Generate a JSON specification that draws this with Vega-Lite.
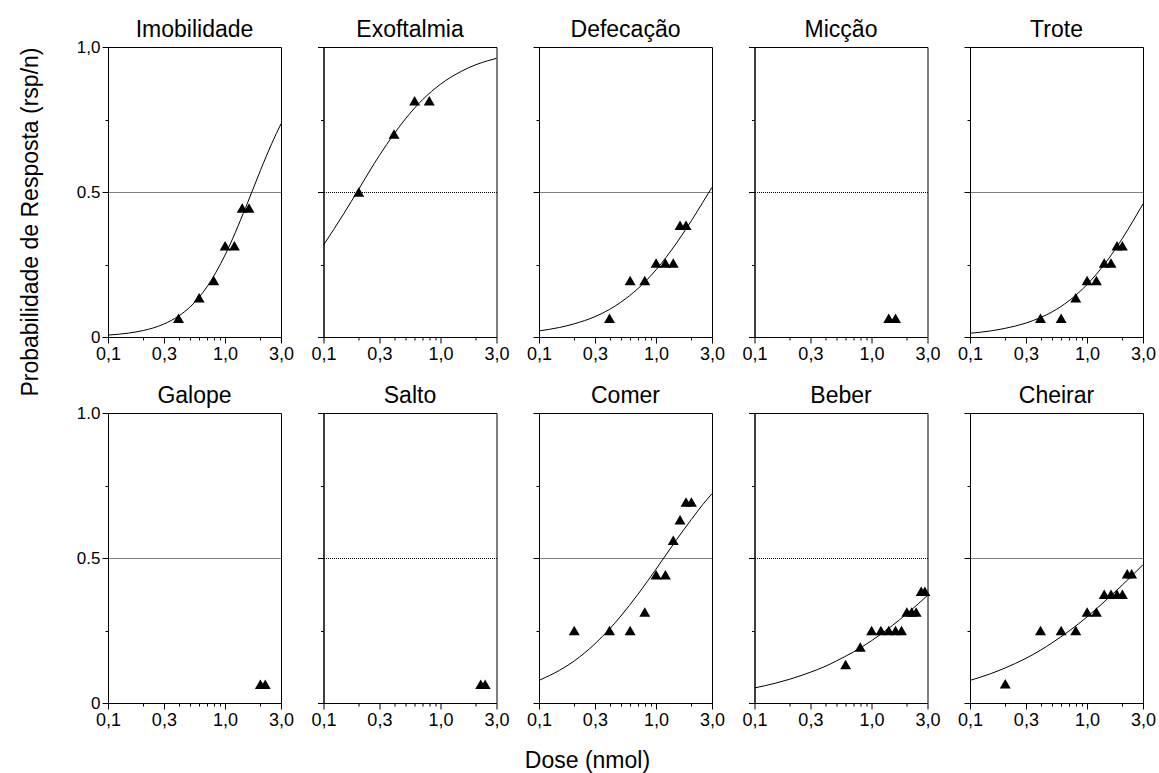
{
  "$schema": "https://vega.github.io/schema/vega-lite/v6.json",
  "background": "white",
  "padding": {"left": 18, "top": 18, "right": 5, "bottom": 0},
  "title": {"text": "Dose (nmol)", "orient": "bottom", "anchor": "middle", "offset": 20, "fontSize": 23},
  "config": {
    "font": "Liberation Sans",
    "view": {"stroke": "black", "strokeWidth": 1},
    "title": {"fontSize": 23, "fontWeight": "normal", "color": "black", "offset": 5, "font": "Liberation Sans"},
    "axis": {"domainColor": "black", "tickColor": "black", "labelColor": "black", "labelFont": "Liberation Sans", "labelFontSize": 18, "labelPadding": 2, "labelFlush": false, "labelOverlap": false, "titleFont": "Liberation Sans", "titleFontWeight": "normal", "titleColor": "black", "titleFontSize": 23, "gridColor": "black", "gridDash": [1, 1], "gridWidth": 1}
  },
  "datasets": {
    "d": [
      {"g": "Imobilidade", "k": "o", "x": 0.4, "y": 0.065},
      {"g": "Imobilidade", "k": "o", "x": 0.6, "y": 0.135},
      {"g": "Imobilidade", "k": "o", "x": 0.8, "y": 0.195},
      {"g": "Imobilidade", "k": "o", "x": 1.0, "y": 0.315},
      {"g": "Imobilidade", "k": "o", "x": 1.2, "y": 0.315},
      {"g": "Imobilidade", "k": "o", "x": 1.4, "y": 0.445},
      {"g": "Imobilidade", "k": "o", "x": 1.6, "y": 0.445},
      {"g": "Exoftalmia", "k": "o", "x": 0.2, "y": 0.5},
      {"g": "Exoftalmia", "k": "o", "x": 0.4, "y": 0.7},
      {"g": "Exoftalmia", "k": "o", "x": 0.6, "y": 0.815},
      {"g": "Exoftalmia", "k": "o", "x": 0.8, "y": 0.815},
      {"g": "Defecação", "k": "o", "x": 0.4, "y": 0.065},
      {"g": "Defecação", "k": "o", "x": 0.6, "y": 0.195},
      {"g": "Defecação", "k": "o", "x": 0.8, "y": 0.195},
      {"g": "Defecação", "k": "o", "x": 1.0, "y": 0.255},
      {"g": "Defecação", "k": "o", "x": 1.2, "y": 0.255},
      {"g": "Defecação", "k": "o", "x": 1.4, "y": 0.255},
      {"g": "Defecação", "k": "o", "x": 1.6, "y": 0.385},
      {"g": "Defecação", "k": "o", "x": 1.8, "y": 0.385},
      {"g": "Micção", "k": "o", "x": 1.4, "y": 0.065},
      {"g": "Micção", "k": "o", "x": 1.6, "y": 0.065},
      {"g": "Trote", "k": "o", "x": 0.4, "y": 0.065},
      {"g": "Trote", "k": "o", "x": 0.6, "y": 0.065},
      {"g": "Trote", "k": "o", "x": 0.8, "y": 0.135},
      {"g": "Trote", "k": "o", "x": 1.0, "y": 0.195},
      {"g": "Trote", "k": "o", "x": 1.2, "y": 0.195},
      {"g": "Trote", "k": "o", "x": 1.4, "y": 0.255},
      {"g": "Trote", "k": "o", "x": 1.6, "y": 0.255},
      {"g": "Trote", "k": "o", "x": 1.8, "y": 0.315},
      {"g": "Trote", "k": "o", "x": 2.0, "y": 0.315},
      {"g": "Galope", "k": "o", "x": 2.0, "y": 0.065},
      {"g": "Galope", "k": "o", "x": 2.2, "y": 0.065},
      {"g": "Salto", "k": "o", "x": 2.2, "y": 0.065},
      {"g": "Salto", "k": "o", "x": 2.4, "y": 0.065},
      {"g": "Comer", "k": "o", "x": 0.2, "y": 0.25},
      {"g": "Comer", "k": "o", "x": 0.4, "y": 0.25},
      {"g": "Comer", "k": "o", "x": 0.6, "y": 0.25},
      {"g": "Comer", "k": "o", "x": 0.8, "y": 0.314},
      {"g": "Comer", "k": "o", "x": 1.0, "y": 0.442},
      {"g": "Comer", "k": "o", "x": 1.2, "y": 0.442},
      {"g": "Comer", "k": "o", "x": 1.4, "y": 0.561},
      {"g": "Comer", "k": "o", "x": 1.6, "y": 0.632},
      {"g": "Comer", "k": "o", "x": 1.8, "y": 0.693},
      {"g": "Comer", "k": "o", "x": 2.0, "y": 0.693},
      {"g": "Beber", "k": "o", "x": 0.6, "y": 0.133},
      {"g": "Beber", "k": "o", "x": 0.8, "y": 0.193},
      {"g": "Beber", "k": "o", "x": 1.0, "y": 0.25},
      {"g": "Beber", "k": "o", "x": 1.2, "y": 0.25},
      {"g": "Beber", "k": "o", "x": 1.4, "y": 0.25},
      {"g": "Beber", "k": "o", "x": 1.6, "y": 0.25},
      {"g": "Beber", "k": "o", "x": 1.8, "y": 0.25},
      {"g": "Beber", "k": "o", "x": 2.0, "y": 0.314},
      {"g": "Beber", "k": "o", "x": 2.2, "y": 0.314},
      {"g": "Beber", "k": "o", "x": 2.4, "y": 0.314},
      {"g": "Beber", "k": "o", "x": 2.65, "y": 0.385},
      {"g": "Beber", "k": "o", "x": 2.85, "y": 0.385},
      {"g": "Cheirar", "k": "o", "x": 0.2, "y": 0.066},
      {"g": "Cheirar", "k": "o", "x": 0.4, "y": 0.25},
      {"g": "Cheirar", "k": "o", "x": 0.6, "y": 0.25},
      {"g": "Cheirar", "k": "o", "x": 0.8, "y": 0.25},
      {"g": "Cheirar", "k": "o", "x": 1.0, "y": 0.314},
      {"g": "Cheirar", "k": "o", "x": 1.2, "y": 0.314},
      {"g": "Cheirar", "k": "o", "x": 1.4, "y": 0.375},
      {"g": "Cheirar", "k": "o", "x": 1.6, "y": 0.375},
      {"g": "Cheirar", "k": "o", "x": 1.8, "y": 0.375},
      {"g": "Cheirar", "k": "o", "x": 2.0, "y": 0.375},
      {"g": "Cheirar", "k": "o", "x": 2.2, "y": 0.446},
      {"g": "Cheirar", "k": "o", "x": 2.4, "y": 0.446},
      {"g": "Imobilidade", "k": "f", "x": 0.1, "y": 0.0066},
      {"g": "Imobilidade", "k": "f", "x": 0.15, "y": 0.0135},
      {"g": "Imobilidade", "k": "f", "x": 0.2, "y": 0.0223},
      {"g": "Imobilidade", "k": "f", "x": 0.3, "y": 0.0447},
      {"g": "Imobilidade", "k": "f", "x": 0.4, "y": 0.072},
      {"g": "Imobilidade", "k": "f", "x": 0.5, "y": 0.103},
      {"g": "Imobilidade", "k": "f", "x": 0.7, "y": 0.173},
      {"g": "Imobilidade", "k": "f", "x": 1.0, "y": 0.283},
      {"g": "Imobilidade", "k": "f", "x": 1.5, "y": 0.447},
      {"g": "Imobilidade", "k": "f", "x": 2.0, "y": 0.574},
      {"g": "Imobilidade", "k": "f", "x": 2.5, "y": 0.667},
      {"g": "Imobilidade", "k": "f", "x": 3.0, "y": 0.735},
      {"g": "Exoftalmia", "k": "f", "x": 0.1, "y": 0.317},
      {"g": "Exoftalmia", "k": "f", "x": 0.15, "y": 0.427},
      {"g": "Exoftalmia", "k": "f", "x": 0.2, "y": 0.51},
      {"g": "Exoftalmia", "k": "f", "x": 0.3, "y": 0.626},
      {"g": "Exoftalmia", "k": "f", "x": 0.4, "y": 0.7},
      {"g": "Exoftalmia", "k": "f", "x": 0.5, "y": 0.752},
      {"g": "Exoftalmia", "k": "f", "x": 0.7, "y": 0.818},
      {"g": "Exoftalmia", "k": "f", "x": 1.0, "y": 0.872},
      {"g": "Exoftalmia", "k": "f", "x": 1.5, "y": 0.916},
      {"g": "Exoftalmia", "k": "f", "x": 2.0, "y": 0.939},
      {"g": "Exoftalmia", "k": "f", "x": 2.5, "y": 0.952},
      {"g": "Exoftalmia", "k": "f", "x": 3.0, "y": 0.961},
      {"g": "Defecação", "k": "f", "x": 0.1, "y": 0.021},
      {"g": "Defecação", "k": "f", "x": 0.15, "y": 0.033},
      {"g": "Defecação", "k": "f", "x": 0.2, "y": 0.0455},
      {"g": "Defecação", "k": "f", "x": 0.3, "y": 0.07},
      {"g": "Defecação", "k": "f", "x": 0.4, "y": 0.095},
      {"g": "Defecação", "k": "f", "x": 0.5, "y": 0.12},
      {"g": "Defecação", "k": "f", "x": 0.7, "y": 0.167},
      {"g": "Defecação", "k": "f", "x": 1.0, "y": 0.232},
      {"g": "Defecação", "k": "f", "x": 1.5, "y": 0.325},
      {"g": "Defecação", "k": "f", "x": 2.0, "y": 0.401},
      {"g": "Defecação", "k": "f", "x": 2.5, "y": 0.464},
      {"g": "Defecação", "k": "f", "x": 3.0, "y": 0.516},
      {"g": "Trote", "k": "f", "x": 0.1, "y": 0.013},
      {"g": "Trote", "k": "f", "x": 0.15, "y": 0.021},
      {"g": "Trote", "k": "f", "x": 0.2, "y": 0.03},
      {"g": "Trote", "k": "f", "x": 0.3, "y": 0.048},
      {"g": "Trote", "k": "f", "x": 0.4, "y": 0.067},
      {"g": "Trote", "k": "f", "x": 0.5, "y": 0.086},
      {"g": "Trote", "k": "f", "x": 0.7, "y": 0.125},
      {"g": "Trote", "k": "f", "x": 1.0, "y": 0.181},
      {"g": "Trote", "k": "f", "x": 1.5, "y": 0.266},
      {"g": "Trote", "k": "f", "x": 2.0, "y": 0.34},
      {"g": "Trote", "k": "f", "x": 2.5, "y": 0.404},
      {"g": "Trote", "k": "f", "x": 3.0, "y": 0.459},
      {"g": "Comer", "k": "f", "x": 0.1, "y": 0.078},
      {"g": "Comer", "k": "f", "x": 0.15, "y": 0.113},
      {"g": "Comer", "k": "f", "x": 0.2, "y": 0.145},
      {"g": "Comer", "k": "f", "x": 0.3, "y": 0.204},
      {"g": "Comer", "k": "f", "x": 0.4, "y": 0.255},
      {"g": "Comer", "k": "f", "x": 0.5, "y": 0.3},
      {"g": "Comer", "k": "f", "x": 0.7, "y": 0.375},
      {"g": "Comer", "k": "f", "x": 1.0, "y": 0.462},
      {"g": "Comer", "k": "f", "x": 1.5, "y": 0.564},
      {"g": "Comer", "k": "f", "x": 2.0, "y": 0.633},
      {"g": "Comer", "k": "f", "x": 2.5, "y": 0.684},
      {"g": "Comer", "k": "f", "x": 3.0, "y": 0.722},
      {"g": "Beber", "k": "f", "x": 0.1, "y": 0.052},
      {"g": "Beber", "k": "f", "x": 0.15, "y": 0.068},
      {"g": "Beber", "k": "f", "x": 0.2, "y": 0.082},
      {"g": "Beber", "k": "f", "x": 0.3, "y": 0.106},
      {"g": "Beber", "k": "f", "x": 0.4, "y": 0.126},
      {"g": "Beber", "k": "f", "x": 0.5, "y": 0.145},
      {"g": "Beber", "k": "f", "x": 0.7, "y": 0.176},
      {"g": "Beber", "k": "f", "x": 1.0, "y": 0.215},
      {"g": "Beber", "k": "f", "x": 1.5, "y": 0.267},
      {"g": "Beber", "k": "f", "x": 2.0, "y": 0.308},
      {"g": "Beber", "k": "f", "x": 2.5, "y": 0.342},
      {"g": "Beber", "k": "f", "x": 3.0, "y": 0.371},
      {"g": "Cheirar", "k": "f", "x": 0.1, "y": 0.078},
      {"g": "Cheirar", "k": "f", "x": 0.15, "y": 0.101},
      {"g": "Cheirar", "k": "f", "x": 0.2, "y": 0.121},
      {"g": "Cheirar", "k": "f", "x": 0.3, "y": 0.154},
      {"g": "Cheirar", "k": "f", "x": 0.4, "y": 0.182},
      {"g": "Cheirar", "k": "f", "x": 0.5, "y": 0.207},
      {"g": "Cheirar", "k": "f", "x": 0.7, "y": 0.248},
      {"g": "Cheirar", "k": "f", "x": 1.0, "y": 0.297},
      {"g": "Cheirar", "k": "f", "x": 1.5, "y": 0.36},
      {"g": "Cheirar", "k": "f", "x": 2.0, "y": 0.407},
      {"g": "Cheirar", "k": "f", "x": 2.5, "y": 0.445},
      {"g": "Cheirar", "k": "f", "x": 3.0, "y": 0.477}
    ]
  },
  "columns": 5,
  "spacing": {"row": 76, "column": 42.5},
  "bounds": "flush",
  "concat": [
    {"title": {"text": "Imobilidade", "offset": -4}, "width": 173, "height": 290, "data": {"name": "d"}, "transform": [{"filter": "datum.g=='Imobilidade'"}],
     "encoding": {
       "x": {"field": "x", "type": "quantitative", "scale": {"type": "log", "domain": [0.1, 3], "nice": false}, "axis": {"title": null, "grid": false, "values": [0.1, 0.2, 0.3, 0.4, 0.5, 0.6, 0.7, 0.8, 0.9, 1, 2, 3], "labelExpr": "datum.value==0.1?'0,1':datum.value==0.3?'0,3':datum.value==1?'1,0':datum.value==3?'3,0':''", "tickSize": {"condition": {"test": "datum.value==0.1||datum.value==0.3||datum.value==1||datum.value==3", "value": 6}, "value": 3}}},
       "y": {"field": "y", "type": "quantitative", "scale": {"domain": [0, 1], "nice": false}, "axis": {"title": "Probabilidade de Resposta (rsp/n)", "titleAnchor": "end", "titlePadding": 34, "labelFontSize": 17, "values": [0, 0.25, 0.5, 0.75, 1], "labelExpr": "datum.value==1?'1,0':datum.value==0.5?'0.5':datum.value==0?'0':''", "tickSize": {"condition": {"test": "datum.value==0||datum.value==0.5||datum.value==1", "value": 6}, "value": 3}, "grid": true, "gridOpacity": {"condition": {"test": "datum.value==0.5", "value": 1}, "value": 0}}}
     },
     "layer": [
       {"transform": [{"filter": "datum.k=='f'"}], "mark": {"type": "line", "interpolate": "monotone", "color": "black", "strokeWidth": 1}},
       {"transform": [{"filter": "datum.k=='o'"}], "mark": {"type": "point", "shape": "triangle-up", "filled": true, "color": "black", "opacity": 1, "size": 120}}
     ]},
    {"title": "Exoftalmia", "width": 173, "height": 290, "data": {"name": "d"}, "transform": [{"filter": "datum.g=='Exoftalmia'"}],
     "encoding": {
       "x": {"field": "x", "type": "quantitative", "scale": {"type": "log", "domain": [0.1, 3], "nice": false}, "axis": {"title": null, "grid": false, "values": [0.1, 0.2, 0.3, 0.4, 0.5, 0.6, 0.7, 0.8, 0.9, 1, 2, 3], "labelExpr": "datum.value==0.1?'0,1':datum.value==0.3?'0,3':datum.value==1?'1,0':datum.value==3?'3,0':''", "tickSize": {"condition": {"test": "datum.value==0.1||datum.value==0.3||datum.value==1||datum.value==3", "value": 6}, "value": 3}}},
       "y": {"field": "y", "type": "quantitative", "scale": {"domain": [0, 1], "nice": false}, "axis": {"title": null, "labels": false, "values": [0, 0.25, 0.5, 0.75, 1], "tickSize": {"condition": {"test": "datum.value==0||datum.value==0.5||datum.value==1", "value": 6}, "value": 3}, "grid": true, "gridOpacity": {"condition": {"test": "datum.value==0.5", "value": 1}, "value": 0}}}
     },
     "layer": [
       {"transform": [{"filter": "datum.k=='f'"}], "mark": {"type": "line", "interpolate": "monotone", "color": "black", "strokeWidth": 1}},
       {"transform": [{"filter": "datum.k=='o'"}], "mark": {"type": "point", "shape": "triangle-up", "filled": true, "color": "black", "opacity": 1, "size": 120}}
     ]},
    {"title": "Defecação", "width": 173, "height": 290, "data": {"name": "d"}, "transform": [{"filter": "datum.g=='Defecação'"}],
     "encoding": {
       "x": {"field": "x", "type": "quantitative", "scale": {"type": "log", "domain": [0.1, 3], "nice": false}, "axis": {"title": null, "grid": false, "values": [0.1, 0.2, 0.3, 0.4, 0.5, 0.6, 0.7, 0.8, 0.9, 1, 2, 3], "labelExpr": "datum.value==0.1?'0,1':datum.value==0.3?'0,3':datum.value==1?'1,0':datum.value==3?'3,0':''", "tickSize": {"condition": {"test": "datum.value==0.1||datum.value==0.3||datum.value==1||datum.value==3", "value": 6}, "value": 3}}},
       "y": {"field": "y", "type": "quantitative", "scale": {"domain": [0, 1], "nice": false}, "axis": {"title": null, "labels": false, "values": [0, 0.25, 0.5, 0.75, 1], "tickSize": {"condition": {"test": "datum.value==0||datum.value==0.5||datum.value==1", "value": 6}, "value": 3}, "grid": true, "gridOpacity": {"condition": {"test": "datum.value==0.5", "value": 1}, "value": 0}}}
     },
     "layer": [
       {"transform": [{"filter": "datum.k=='f'"}], "mark": {"type": "line", "interpolate": "monotone", "color": "black", "strokeWidth": 1}},
       {"transform": [{"filter": "datum.k=='o'"}], "mark": {"type": "point", "shape": "triangle-up", "filled": true, "color": "black", "opacity": 1, "size": 120}}
     ]},
    {"title": "Micção", "width": 173, "height": 290, "data": {"name": "d"}, "transform": [{"filter": "datum.g=='Micção'"}],
     "encoding": {
       "x": {"field": "x", "type": "quantitative", "scale": {"type": "log", "domain": [0.1, 3], "nice": false}, "axis": {"title": null, "grid": false, "values": [0.1, 0.2, 0.3, 0.4, 0.5, 0.6, 0.7, 0.8, 0.9, 1, 2, 3], "labelExpr": "datum.value==0.1?'0,1':datum.value==0.3?'0,3':datum.value==1?'1,0':datum.value==3?'3,0':''", "tickSize": {"condition": {"test": "datum.value==0.1||datum.value==0.3||datum.value==1||datum.value==3", "value": 6}, "value": 3}}},
       "y": {"field": "y", "type": "quantitative", "scale": {"domain": [0, 1], "nice": false}, "axis": {"title": null, "labels": false, "values": [0, 0.25, 0.5, 0.75, 1], "tickSize": {"condition": {"test": "datum.value==0||datum.value==0.5||datum.value==1", "value": 6}, "value": 3}, "grid": true, "gridOpacity": {"condition": {"test": "datum.value==0.5", "value": 1}, "value": 0}}}
     },
     "layer": [
       {"transform": [{"filter": "datum.k=='o'"}], "mark": {"type": "point", "shape": "triangle-up", "filled": true, "color": "black", "opacity": 1, "size": 120}}
     ]},
    {"title": "Trote", "width": 173, "height": 290, "data": {"name": "d"}, "transform": [{"filter": "datum.g=='Trote'"}],
     "encoding": {
       "x": {"field": "x", "type": "quantitative", "scale": {"type": "log", "domain": [0.1, 3], "nice": false}, "axis": {"title": null, "grid": false, "values": [0.1, 0.2, 0.3, 0.4, 0.5, 0.6, 0.7, 0.8, 0.9, 1, 2, 3], "labelExpr": "datum.value==0.1?'0,1':datum.value==0.3?'0,3':datum.value==1?'1,0':datum.value==3?'3,0':''", "tickSize": {"condition": {"test": "datum.value==0.1||datum.value==0.3||datum.value==1||datum.value==3", "value": 6}, "value": 3}}},
       "y": {"field": "y", "type": "quantitative", "scale": {"domain": [0, 1], "nice": false}, "axis": {"title": null, "labels": false, "values": [0, 0.25, 0.5, 0.75, 1], "tickSize": {"condition": {"test": "datum.value==0||datum.value==0.5||datum.value==1", "value": 6}, "value": 3}, "grid": true, "gridOpacity": {"condition": {"test": "datum.value==0.5", "value": 1}, "value": 0}}}
     },
     "layer": [
       {"transform": [{"filter": "datum.k=='f'"}], "mark": {"type": "line", "interpolate": "monotone", "color": "black", "strokeWidth": 1}},
       {"transform": [{"filter": "datum.k=='o'"}], "mark": {"type": "point", "shape": "triangle-up", "filled": true, "color": "black", "opacity": 1, "size": 120}}
     ]},
    {"title": {"text": "Galope", "offset": -4}, "width": 173, "height": 290, "data": {"name": "d"}, "transform": [{"filter": "datum.g=='Galope'"}],
     "encoding": {
       "x": {"field": "x", "type": "quantitative", "scale": {"type": "log", "domain": [0.1, 3], "nice": false}, "axis": {"title": null, "grid": false, "values": [0.1, 0.2, 0.3, 0.4, 0.5, 0.6, 0.7, 0.8, 0.9, 1, 2, 3], "labelExpr": "datum.value==0.1?'0,1':datum.value==0.3?'0,3':datum.value==1?'1,0':datum.value==3?'3,0':''", "tickSize": {"condition": {"test": "datum.value==0.1||datum.value==0.3||datum.value==1||datum.value==3", "value": 6}, "value": 3}}},
       "y": {"field": "y", "type": "quantitative", "scale": {"domain": [0, 1], "nice": false}, "axis": {"title": null, "labelFontSize": 17, "values": [0, 0.25, 0.5, 0.75, 1], "labelExpr": "datum.value==1?'1.0':datum.value==0.5?'0.5':datum.value==0?'0':''", "tickSize": {"condition": {"test": "datum.value==0||datum.value==0.5||datum.value==1", "value": 6}, "value": 3}, "grid": true, "gridOpacity": {"condition": {"test": "datum.value==0.5", "value": 1}, "value": 0}}}
     },
     "layer": [
       {"transform": [{"filter": "datum.k=='o'"}], "mark": {"type": "point", "shape": "triangle-up", "filled": true, "color": "black", "opacity": 1, "size": 120}}
     ]},
    {"title": "Salto", "width": 173, "height": 290, "data": {"name": "d"}, "transform": [{"filter": "datum.g=='Salto'"}],
     "encoding": {
       "x": {"field": "x", "type": "quantitative", "scale": {"type": "log", "domain": [0.1, 3], "nice": false}, "axis": {"title": null, "grid": false, "values": [0.1, 0.2, 0.3, 0.4, 0.5, 0.6, 0.7, 0.8, 0.9, 1, 2, 3], "labelExpr": "datum.value==0.1?'0,1':datum.value==0.3?'0,3':datum.value==1?'1,0':datum.value==3?'3,0':''", "tickSize": {"condition": {"test": "datum.value==0.1||datum.value==0.3||datum.value==1||datum.value==3", "value": 6}, "value": 3}}},
       "y": {"field": "y", "type": "quantitative", "scale": {"domain": [0, 1], "nice": false}, "axis": {"title": null, "labels": false, "values": [0, 0.25, 0.5, 0.75, 1], "tickSize": {"condition": {"test": "datum.value==0||datum.value==0.5||datum.value==1", "value": 6}, "value": 3}, "grid": true, "gridOpacity": {"condition": {"test": "datum.value==0.5", "value": 1}, "value": 0}}}
     },
     "layer": [
       {"transform": [{"filter": "datum.k=='o'"}], "mark": {"type": "point", "shape": "triangle-up", "filled": true, "color": "black", "opacity": 1, "size": 120}}
     ]},
    {"title": "Comer", "width": 173, "height": 290, "data": {"name": "d"}, "transform": [{"filter": "datum.g=='Comer'"}],
     "encoding": {
       "x": {"field": "x", "type": "quantitative", "scale": {"type": "log", "domain": [0.1, 3], "nice": false}, "axis": {"title": null, "grid": false, "values": [0.1, 0.2, 0.3, 0.4, 0.5, 0.6, 0.7, 0.8, 0.9, 1, 2, 3], "labelExpr": "datum.value==0.1?'0,1':datum.value==0.3?'0,3':datum.value==1?'1,0':datum.value==3?'3,0':''", "tickSize": {"condition": {"test": "datum.value==0.1||datum.value==0.3||datum.value==1||datum.value==3", "value": 6}, "value": 3}}},
       "y": {"field": "y", "type": "quantitative", "scale": {"domain": [0, 1], "nice": false}, "axis": {"title": null, "labels": false, "values": [0, 0.25, 0.5, 0.75, 1], "tickSize": {"condition": {"test": "datum.value==0||datum.value==0.5||datum.value==1", "value": 6}, "value": 3}, "grid": true, "gridOpacity": {"condition": {"test": "datum.value==0.5", "value": 1}, "value": 0}}}
     },
     "layer": [
       {"transform": [{"filter": "datum.k=='f'"}], "mark": {"type": "line", "interpolate": "monotone", "color": "black", "strokeWidth": 1}},
       {"transform": [{"filter": "datum.k=='o'"}], "mark": {"type": "point", "shape": "triangle-up", "filled": true, "color": "black", "opacity": 1, "size": 120}}
     ]},
    {"title": "Beber", "width": 173, "height": 290, "data": {"name": "d"}, "transform": [{"filter": "datum.g=='Beber'"}],
     "encoding": {
       "x": {"field": "x", "type": "quantitative", "scale": {"type": "log", "domain": [0.1, 3], "nice": false}, "axis": {"title": null, "grid": false, "values": [0.1, 0.2, 0.3, 0.4, 0.5, 0.6, 0.7, 0.8, 0.9, 1, 2, 3], "labelExpr": "datum.value==0.1?'0,1':datum.value==0.3?'0,3':datum.value==1?'1,0':datum.value==3?'3,0':''", "tickSize": {"condition": {"test": "datum.value==0.1||datum.value==0.3||datum.value==1||datum.value==3", "value": 6}, "value": 3}}},
       "y": {"field": "y", "type": "quantitative", "scale": {"domain": [0, 1], "nice": false}, "axis": {"title": null, "labels": false, "values": [0, 0.25, 0.5, 0.75, 1], "tickSize": {"condition": {"test": "datum.value==0||datum.value==0.5||datum.value==1", "value": 6}, "value": 3}, "grid": true, "gridOpacity": {"condition": {"test": "datum.value==0.5", "value": 1}, "value": 0}}}
     },
     "layer": [
       {"transform": [{"filter": "datum.k=='f'"}], "mark": {"type": "line", "interpolate": "monotone", "color": "black", "strokeWidth": 1}},
       {"transform": [{"filter": "datum.k=='o'"}], "mark": {"type": "point", "shape": "triangle-up", "filled": true, "color": "black", "opacity": 1, "size": 120}}
     ]},
    {"title": "Cheirar", "width": 173, "height": 290, "data": {"name": "d"}, "transform": [{"filter": "datum.g=='Cheirar'"}],
     "encoding": {
       "x": {"field": "x", "type": "quantitative", "scale": {"type": "log", "domain": [0.1, 3], "nice": false}, "axis": {"title": null, "grid": false, "values": [0.1, 0.2, 0.3, 0.4, 0.5, 0.6, 0.7, 0.8, 0.9, 1, 2, 3], "labelExpr": "datum.value==0.1?'0,1':datum.value==0.3?'0,3':datum.value==1?'1,0':datum.value==3?'3,0':''", "tickSize": {"condition": {"test": "datum.value==0.1||datum.value==0.3||datum.value==1||datum.value==3", "value": 6}, "value": 3}}},
       "y": {"field": "y", "type": "quantitative", "scale": {"domain": [0, 1], "nice": false}, "axis": {"title": null, "labels": false, "values": [0, 0.25, 0.5, 0.75, 1], "tickSize": {"condition": {"test": "datum.value==0||datum.value==0.5||datum.value==1", "value": 6}, "value": 3}, "grid": true, "gridOpacity": {"condition": {"test": "datum.value==0.5", "value": 1}, "value": 0}}}
     },
     "layer": [
       {"transform": [{"filter": "datum.k=='f'"}], "mark": {"type": "line", "interpolate": "monotone", "color": "black", "strokeWidth": 1}},
       {"transform": [{"filter": "datum.k=='o'"}], "mark": {"type": "point", "shape": "triangle-up", "filled": true, "color": "black", "opacity": 1, "size": 120}}
     ]}
  ]
}
